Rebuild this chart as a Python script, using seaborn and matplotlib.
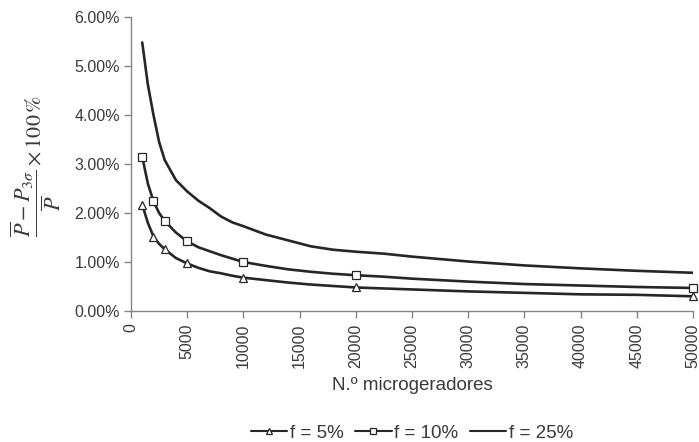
import matplotlib
matplotlib.use("Agg")
import matplotlib.pyplot as plt
from matplotlib.lines import Line2D
from matplotlib.ticker import FuncFormatter, MultipleLocator
import seaborn as sns
import pandas as pd

# Number of microgenerators (simulation points)
n_micro = [1000, 1500, 2000, 2500, 3000, 4000, 5000, 6000, 7000, 8000, 9000,
           10000, 12000, 14000, 16000, 18000, 20000, 22500, 25000, 30000,
           35000, 40000, 45000, 50000]

# Relative deviation (%) for each penetration factor
dev_f5 = [2.17, 1.80, 1.52, 1.37, 1.26, 1.08, 0.97, 0.88, 0.81, 0.77, 0.72,
          0.68, 0.63, 0.58, 0.54, 0.51, 0.48, 0.46, 0.44, 0.40,
          0.37, 0.34, 0.33, 0.30]
dev_f10 = [3.15, 2.60, 2.24, 2.00, 1.84, 1.60, 1.42, 1.30, 1.22, 1.14, 1.07,
           1.00, 0.92, 0.85, 0.80, 0.76, 0.73, 0.70, 0.66, 0.60,
           0.55, 0.52, 0.49, 0.47]
dev_f25 = [5.48, 4.62, 4.00, 3.45, 3.08, 2.67, 2.44, 2.25, 2.10, 1.93, 1.81,
           1.73, 1.56, 1.44, 1.32, 1.25, 1.21, 1.17, 1.11, 1.01,
           0.93, 0.87, 0.82, 0.78]

# Points highlighted with markers
marked_n = [1000, 2000, 3000, 5000, 10000, 20000, 50000]

series_labels = ["f = 5%", "f = 10%", "f = 25%"]
x_ticks = list(range(0, 50001, 5000))

df = pd.concat([
    pd.DataFrame({"n": n_micro, "dev": dev_f5, "serie": series_labels[0]}),
    pd.DataFrame({"n": n_micro, "dev": dev_f10, "serie": series_labels[1]}),
    pd.DataFrame({"n": n_micro, "dev": dev_f25, "serie": series_labels[2]}),
])

sns.set_theme(style="ticks")
plt.rcParams["font.family"] = ["Liberation Sans", "DejaVu Sans"]
plt.rcParams["mathtext.fontset"] = "stix"

TEXT = "#3a3a3a"
LINE = "#262626"
AXIS = "#858585"

fig = plt.figure(figsize=(6.99, 4.42), dpi=100)
ax = fig.add_axes([131 / 699, 1 - 311 / 442, (693 - 131) / 699, (311 - 17) / 442])

sns.lineplot(data=df, x="n", y="dev", hue="serie", palette=[LINE] * 3,
             linewidth=1.9, legend=False, ax=ax, sort=False)

markers = {series_labels[0]: "^", series_labels[1]: "s"}
for lab, mk in markers.items():
    sub = df[(df["serie"] == lab) & (df["n"].isin(marked_n))]
    ax.plot(sub["n"], sub["dev"], linestyle="none", marker=mk, markersize=5.3,
            markerfacecolor="white", markeredgecolor=LINE, markeredgewidth=0.9,
            clip_on=False, zorder=5)

ax.set_xlim(0, 50000)
ax.set_ylim(0, 6)
ax.set_xticks(x_ticks)
ax.yaxis.set_major_locator(MultipleLocator(1))
ax.yaxis.set_major_formatter(FuncFormatter(lambda v, p: f"{v:.2f}%"))
ax.tick_params(axis="x", labelrotation=90, labelsize=11.5, colors=AXIS,
               labelcolor=TEXT, length=5, width=1, pad=4)
ax.tick_params(axis="y", labelsize=11.5, colors=AXIS, labelcolor=TEXT,
               length=5, width=1, pad=3)
for s in ("top", "right"):
    ax.spines[s].set_visible(False)
for s in ("left", "bottom"):
    ax.spines[s].set_color(AXIS)
    ax.spines[s].set_linewidth(1.0)
ax.set_xlabel("")
ax.set_ylabel("")

fig.text(412 / 699, 1 - 386 / 442, "N.º microgeradores", ha="center",
         va="center", fontsize=13.5, color=TEXT)
fig.text(36 / 699, 1 - 166 / 442,
         r"$\dfrac{\overline{P}-P_{3\sigma}}{\overline{P}}\times 100\,\%$",
         rotation=90, ha="center", va="center", fontsize=16, color=TEXT)

handles = [
    Line2D([], [], color=LINE, linewidth=1.5, marker="^", markersize=5,
           markerfacecolor="white", markeredgecolor=LINE, markeredgewidth=0.9),
    Line2D([], [], color=LINE, linewidth=1.5, marker="s", markersize=5,
           markerfacecolor="white", markeredgecolor=LINE, markeredgewidth=0.9),
    Line2D([], [], color=LINE, linewidth=1.5),
]
fig.legend(handles, series_labels, loc="center", ncol=3, frameon=False,
           bbox_to_anchor=(412 / 699, 1 - 433 / 442), fontsize=13.5,
           labelcolor=TEXT, handlelength=1.95, handletextpad=0.15,
           columnspacing=0.6, borderpad=0)

fig.savefig("out.png", dpi=100)
